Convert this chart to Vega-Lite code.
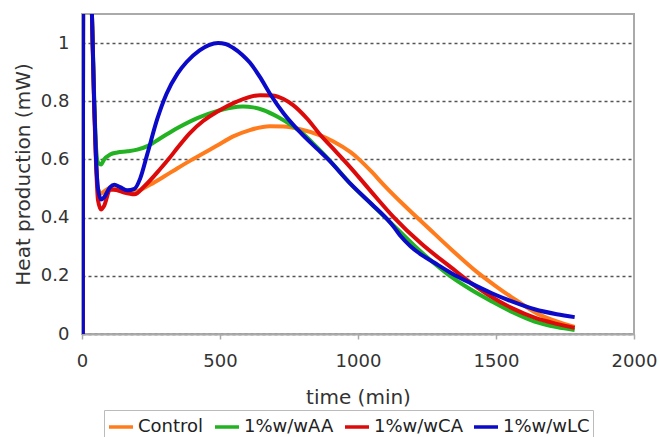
{
  "$schema": "https://vega.github.io/schema/vega-lite/v6.json",
  "width": 552,
  "height": 320,
  "autosize": {"type": "none"},
  "padding": {"left": 82, "top": 14, "right": 26, "bottom": 103},
  "background": "white",
  "config": {
    "font": "DejaVu Sans",
    "view": {"stroke": "#aaaaaa", "strokeWidth": 2}
  },
  "datasets": {
    "curves": [
      {"series": "Control", "t": 3, "v": 0}, {"series": "Control", "t": 5, "v": 1.6}, {"series": "Control", "t": 25, "v": 1.6}, {"series": "Control", "t": 36, "v": 1.1}, {"series": "Control", "t": 44, "v": 0.8}, {"series": "Control", "t": 51, "v": 0.6}, {"series": "Control", "t": 58, "v": 0.5}, {"series": "Control", "t": 69, "v": 0.483}, {"series": "Control", "t": 80, "v": 0.49}, {"series": "Control", "t": 102, "v": 0.503}, {"series": "Control", "t": 130, "v": 0.495}, {"series": "Control", "t": 164, "v": 0.49}, {"series": "Control", "t": 200, "v": 0.492}, {"series": "Control", "t": 248, "v": 0.514}, {"series": "Control", "t": 300, "v": 0.543}, {"series": "Control", "t": 346, "v": 0.57}, {"series": "Control", "t": 400, "v": 0.6}, {"series": "Control", "t": 488, "v": 0.647}, {"series": "Control", "t": 550, "v": 0.68}, {"series": "Control", "t": 608, "v": 0.701}, {"series": "Control", "t": 681, "v": 0.714}, {"series": "Control", "t": 730, "v": 0.713}, {"series": "Control", "t": 790, "v": 0.704}, {"series": "Control", "t": 863, "v": 0.683}, {"series": "Control", "t": 911, "v": 0.662}, {"series": "Control", "t": 973, "v": 0.625}, {"series": "Control", "t": 1002, "v": 0.602}, {"series": "Control", "t": 1050, "v": 0.557}, {"series": "Control", "t": 1093, "v": 0.513}, {"series": "Control", "t": 1170, "v": 0.44}, {"series": "Control", "t": 1253, "v": 0.366}, {"series": "Control", "t": 1340, "v": 0.289}, {"series": "Control", "t": 1435, "v": 0.21}, {"series": "Control", "t": 1500, "v": 0.164}, {"series": "Control", "t": 1556, "v": 0.127}, {"series": "Control", "t": 1650, "v": 0.07}, {"series": "Control", "t": 1785, "v": 0.024},
      {"series": "1%w/wAA", "t": 3, "v": 0}, {"series": "1%w/wAA", "t": 5, "v": 1.6}, {"series": "1%w/wAA", "t": 25, "v": 1.6}, {"series": "1%w/wAA", "t": 36, "v": 1.1}, {"series": "1%w/wAA", "t": 44, "v": 0.82}, {"series": "1%w/wAA", "t": 51, "v": 0.64}, {"series": "1%w/wAA", "t": 58, "v": 0.59}, {"series": "1%w/wAA", "t": 69, "v": 0.583}, {"series": "1%w/wAA", "t": 80, "v": 0.6}, {"series": "1%w/wAA", "t": 102, "v": 0.617}, {"series": "1%w/wAA", "t": 128, "v": 0.624}, {"series": "1%w/wAA", "t": 165, "v": 0.628}, {"series": "1%w/wAA", "t": 200, "v": 0.634}, {"series": "1%w/wAA", "t": 237, "v": 0.646}, {"series": "1%w/wAA", "t": 284, "v": 0.673}, {"series": "1%w/wAA", "t": 346, "v": 0.708}, {"series": "1%w/wAA", "t": 420, "v": 0.743}, {"series": "1%w/wAA", "t": 488, "v": 0.766}, {"series": "1%w/wAA", "t": 540, "v": 0.778}, {"series": "1%w/wAA", "t": 583, "v": 0.782}, {"series": "1%w/wAA", "t": 620, "v": 0.779}, {"series": "1%w/wAA", "t": 656, "v": 0.77}, {"series": "1%w/wAA", "t": 710, "v": 0.746}, {"series": "1%w/wAA", "t": 765, "v": 0.714}, {"series": "1%w/wAA", "t": 800, "v": 0.689}, {"series": "1%w/wAA", "t": 850, "v": 0.643}, {"series": "1%w/wAA", "t": 892, "v": 0.602}, {"series": "1%w/wAA", "t": 973, "v": 0.516}, {"series": "1%w/wAA", "t": 1050, "v": 0.445}, {"series": "1%w/wAA", "t": 1107, "v": 0.393}, {"series": "1%w/wAA", "t": 1155, "v": 0.349}, {"series": "1%w/wAA", "t": 1217, "v": 0.292}, {"series": "1%w/wAA", "t": 1280, "v": 0.24}, {"series": "1%w/wAA", "t": 1337, "v": 0.197}, {"series": "1%w/wAA", "t": 1410, "v": 0.152}, {"series": "1%w/wAA", "t": 1483, "v": 0.113}, {"series": "1%w/wAA", "t": 1560, "v": 0.075}, {"series": "1%w/wAA", "t": 1640, "v": 0.043}, {"series": "1%w/wAA", "t": 1720, "v": 0.024}, {"series": "1%w/wAA", "t": 1785, "v": 0.014},
      {"series": "1%w/wCA", "t": 3, "v": 0}, {"series": "1%w/wCA", "t": 5, "v": 1.6}, {"series": "1%w/wCA", "t": 25, "v": 1.6}, {"series": "1%w/wCA", "t": 36, "v": 1.1}, {"series": "1%w/wCA", "t": 44, "v": 0.78}, {"series": "1%w/wCA", "t": 51, "v": 0.58}, {"series": "1%w/wCA", "t": 58, "v": 0.46}, {"series": "1%w/wCA", "t": 69, "v": 0.428}, {"series": "1%w/wCA", "t": 80, "v": 0.44}, {"series": "1%w/wCA", "t": 102, "v": 0.497}, {"series": "1%w/wCA", "t": 125, "v": 0.495}, {"series": "1%w/wCA", "t": 153, "v": 0.486}, {"series": "1%w/wCA", "t": 190, "v": 0.48}, {"series": "1%w/wCA", "t": 226, "v": 0.508}, {"series": "1%w/wCA", "t": 284, "v": 0.568}, {"series": "1%w/wCA", "t": 317, "v": 0.605}, {"series": "1%w/wCA", "t": 346, "v": 0.64}, {"series": "1%w/wCA", "t": 390, "v": 0.69}, {"series": "1%w/wCA", "t": 440, "v": 0.733}, {"series": "1%w/wCA", "t": 488, "v": 0.763}, {"series": "1%w/wCA", "t": 561, "v": 0.799}, {"series": "1%w/wCA", "t": 645, "v": 0.821}, {"series": "1%w/wCA", "t": 689, "v": 0.82}, {"series": "1%w/wCA", "t": 730, "v": 0.808}, {"series": "1%w/wCA", "t": 765, "v": 0.787}, {"series": "1%w/wCA", "t": 816, "v": 0.74}, {"series": "1%w/wCA", "t": 863, "v": 0.685}, {"series": "1%w/wCA", "t": 920, "v": 0.627}, {"series": "1%w/wCA", "t": 973, "v": 0.572}, {"series": "1%w/wCA", "t": 1050, "v": 0.487}, {"series": "1%w/wCA", "t": 1129, "v": 0.402}, {"series": "1%w/wCA", "t": 1230, "v": 0.31}, {"series": "1%w/wCA", "t": 1337, "v": 0.229}, {"series": "1%w/wCA", "t": 1410, "v": 0.175}, {"series": "1%w/wCA", "t": 1483, "v": 0.128}, {"series": "1%w/wCA", "t": 1560, "v": 0.088}, {"series": "1%w/wCA", "t": 1640, "v": 0.056}, {"series": "1%w/wCA", "t": 1720, "v": 0.035}, {"series": "1%w/wCA", "t": 1785, "v": 0.021},
      {"series": "1%w/wLC", "t": 3, "v": 0}, {"series": "1%w/wLC", "t": 5, "v": 1.6}, {"series": "1%w/wLC", "t": 25, "v": 1.6}, {"series": "1%w/wLC", "t": 36, "v": 1.1}, {"series": "1%w/wLC", "t": 44, "v": 0.8}, {"series": "1%w/wLC", "t": 51, "v": 0.6}, {"series": "1%w/wLC", "t": 58, "v": 0.5}, {"series": "1%w/wLC", "t": 69, "v": 0.462}, {"series": "1%w/wLC", "t": 80, "v": 0.47}, {"series": "1%w/wLC", "t": 102, "v": 0.505}, {"series": "1%w/wLC", "t": 117, "v": 0.513}, {"series": "1%w/wLC", "t": 138, "v": 0.505}, {"series": "1%w/wLC", "t": 164, "v": 0.494}, {"series": "1%w/wLC", "t": 190, "v": 0.499}, {"series": "1%w/wLC", "t": 211, "v": 0.535}, {"series": "1%w/wLC", "t": 237, "v": 0.62}, {"series": "1%w/wLC", "t": 273, "v": 0.74}, {"series": "1%w/wLC", "t": 306, "v": 0.825}, {"series": "1%w/wLC", "t": 346, "v": 0.895}, {"series": "1%w/wLC", "t": 379, "v": 0.935}, {"series": "1%w/wLC", "t": 426, "v": 0.975}, {"series": "1%w/wLC", "t": 460, "v": 0.993}, {"series": "1%w/wLC", "t": 493, "v": 1.0}, {"series": "1%w/wLC", "t": 520, "v": 0.997}, {"series": "1%w/wLC", "t": 547, "v": 0.984}, {"series": "1%w/wLC", "t": 580, "v": 0.96}, {"series": "1%w/wLC", "t": 608, "v": 0.933}, {"series": "1%w/wLC", "t": 645, "v": 0.883}, {"series": "1%w/wLC", "t": 681, "v": 0.826}, {"series": "1%w/wLC", "t": 730, "v": 0.759}, {"series": "1%w/wLC", "t": 790, "v": 0.694}, {"series": "1%w/wLC", "t": 850, "v": 0.638}, {"series": "1%w/wLC", "t": 892, "v": 0.6}, {"series": "1%w/wLC", "t": 973, "v": 0.516}, {"series": "1%w/wLC", "t": 1050, "v": 0.446}, {"series": "1%w/wLC", "t": 1107, "v": 0.393}, {"series": "1%w/wLC", "t": 1129, "v": 0.369}, {"series": "1%w/wLC", "t": 1155, "v": 0.336}, {"series": "1%w/wLC", "t": 1190, "v": 0.302}, {"series": "1%w/wLC", "t": 1217, "v": 0.281}, {"series": "1%w/wLC", "t": 1280, "v": 0.243}, {"series": "1%w/wLC", "t": 1337, "v": 0.21}, {"series": "1%w/wLC", "t": 1410, "v": 0.174}, {"series": "1%w/wLC", "t": 1483, "v": 0.141}, {"series": "1%w/wLC", "t": 1560, "v": 0.111}, {"series": "1%w/wLC", "t": 1640, "v": 0.085}, {"series": "1%w/wLC", "t": 1720, "v": 0.068}, {"series": "1%w/wLC", "t": 1785, "v": 0.058}
    ]
  },
  "data": {"name": "curves"},
  "mark": {"type": "line", "interpolate": "monotone", "strokeWidth": 4, "clip": true},
  "encoding": {
    "x": {
      "field": "t",
      "type": "quantitative",
      "scale": {"domain": [0, 2000], "nice": false},
      "axis": {
        "title": "time (min)",
        "values": [0, 500, 1000, 1500, 2000],
        "format": "d",
        "grid": false,
        "domainColor": "#aaaaaa",
        "domainWidth": 2,
        "tickColor": "#aaaaaa",
        "tickWidth": 1.5,
        "tickSize": 5,
        "labelFontSize": 18,
        "labelColor": "#333333",
        "labelPadding": 13,
        "labelFlush": false,
        "titleFontSize": 20,
        "titleFontWeight": "normal",
        "titleColor": "#333333",
        "titlePadding": 17
      }
    },
    "y": {
      "field": "v",
      "type": "quantitative",
      "scale": {"domain": [0, 1.1], "nice": false},
      "axis": {
        "title": "Heat production (mW)",
        "values": [0, 0.2, 0.4, 0.6, 0.8, 1],
        "format": ".1~f",
        "ticks": false,
        "domain": false,
        "gridColor": "#555555",
        "gridDash": [3, 3],
        "gridWidth": 1.5,
        "labelFontSize": 18,
        "labelColor": "#333333",
        "labelPadding": 13,
        "titleFontSize": 20,
        "titleFontWeight": "normal",
        "titleColor": "#333333",
        "titlePadding": 7
      }
    },
    "color": {
      "field": "series",
      "type": "nominal",
      "sort": ["Control", "1%w/wAA", "1%w/wCA", "1%w/wLC"],
      "scale": {
        "domain": ["Control", "1%w/wAA", "1%w/wCA", "1%w/wLC"],
        "range": ["#FF7B1C", "#22B222", "#DC0A0A", "#0A0AC8"]
      },
      "legend": {
        "title": null,
        "orient": "none",
        "legendX": 22,
        "legendY": 396,
        "direction": "horizontal",
        "gridAlign": "none",
        "symbolType": "stroke",
        "symbolSize": 576,
        "symbolStrokeWidth": 3.5,
        "labelFontSize": 18,
        "labelColor": "#222222",
        "labelOffset": 3,
        "columnPadding": 4,
        "padding": 3,
        "strokeColor": "#bbbbbb",
        "fillColor": "white"
      }
    }
  }
}
